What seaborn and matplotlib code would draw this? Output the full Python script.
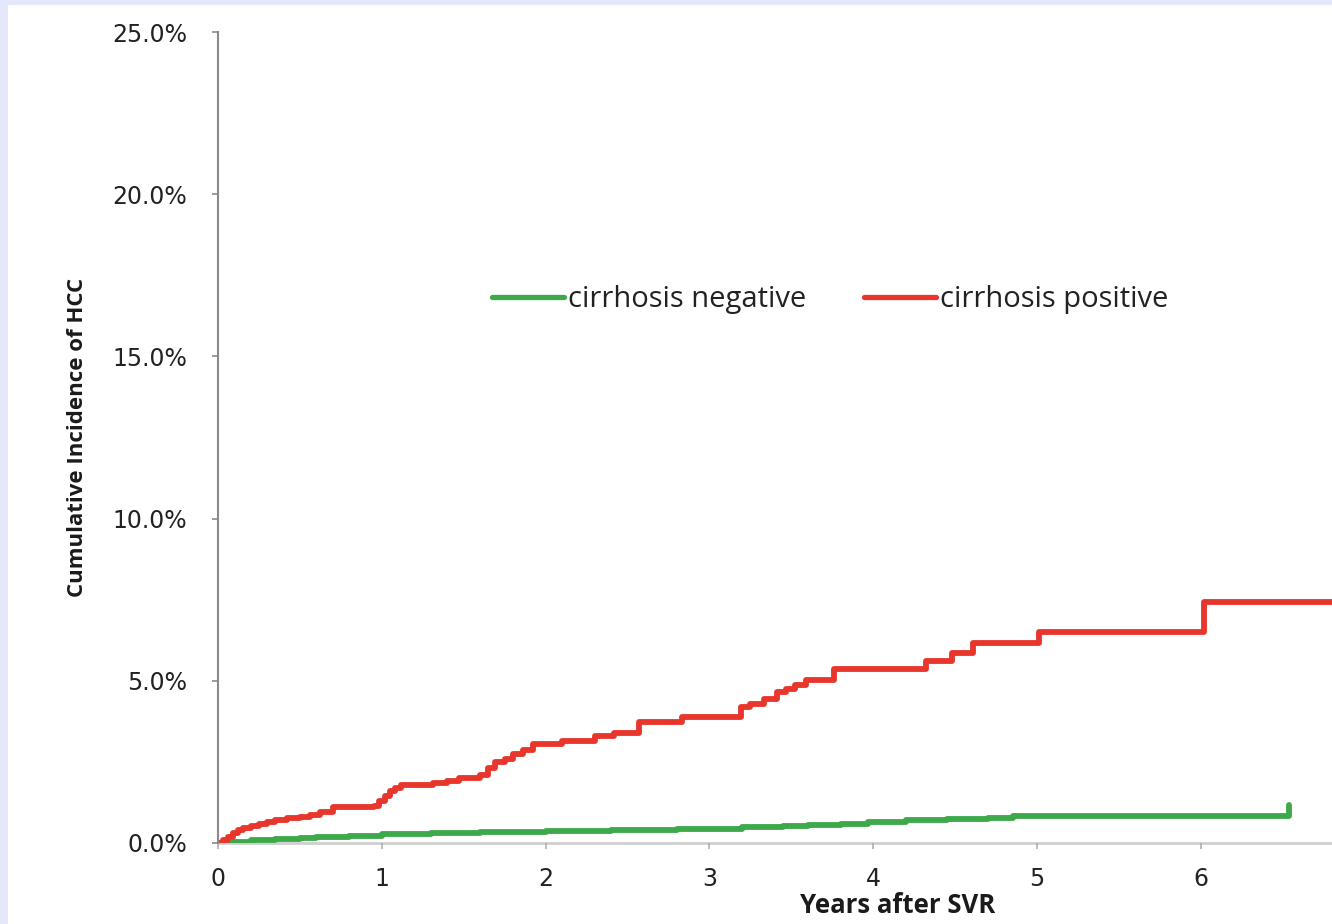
import matplotlib
matplotlib.use("Agg")
import matplotlib.pyplot as plt
from matplotlib.patches import Rectangle
from matplotlib.ticker import FuncFormatter
import seaborn as sns
import pandas as pd

# ---- data ----
neg_label = "cirrhosis negative"
pos_label = "cirrhosis positive"

neg_years = [0, 0.1, 0.2, 0.35, 0.5, 0.6, 0.8, 1.0, 1.3, 1.6, 2.0, 2.4, 2.8,
             3.2, 3.45, 3.6, 3.8, 3.97, 4.2, 4.45, 4.7, 4.85, 6.54]
neg_pct = [0, 0.04, 0.08, 0.12, 0.16, 0.2, 0.23, 0.27, 0.3, 0.33, 0.36, 0.4,
           0.44, 0.48, 0.51, 0.55, 0.6, 0.66, 0.7, 0.74, 0.78, 0.83, 1.18]

pos_years = [0, 0.03, 0.06, 0.09, 0.12, 0.15, 0.2, 0.25, 0.3, 0.35, 0.42, 0.5,
             0.56, 0.62, 0.7, 0.95, 0.98, 1.02, 1.05, 1.08, 1.12, 1.25, 1.31,
             1.4, 1.47, 1.6, 1.65, 1.69, 1.75, 1.8, 1.86, 1.92, 2.1, 2.3, 2.42,
             2.57, 2.83, 3.19, 3.25, 3.33, 3.41, 3.47, 3.52, 3.59, 3.76, 4.32,
             4.48, 4.61, 5.01, 6.02, 6.8]
pos_pct = [0, 0.1, 0.2, 0.3, 0.4, 0.46, 0.52, 0.6, 0.66, 0.72, 0.77, 0.8,
           0.87, 0.95, 1.1, 1.15, 1.3, 1.45, 1.6, 1.7, 1.78, 1.8, 1.85, 1.9,
           2.0, 2.1, 2.3, 2.5, 2.6, 2.75, 2.88, 3.05, 3.15, 3.3, 3.4, 3.72,
           3.88, 4.18, 4.3, 4.45, 4.65, 4.75, 4.87, 5.02, 5.35, 5.6, 5.85,
           6.15, 6.5, 7.43, 7.43]

x_ticks = [0, 1, 2, 3, 4, 5, 6]
y_ticks = [0, 5, 10, 15, 20, 25]

df = pd.concat([
    pd.DataFrame({"years": neg_years, "pct": neg_pct, "group": neg_label}),
    pd.DataFrame({"years": pos_years, "pct": pos_pct, "group": pos_label}),
], ignore_index=True)

# ---- figure ----
sns.set_style("white")
plt.rcParams["font.family"] = ["DejaVu Sans"]

fig = plt.figure(figsize=(13.32, 9.24), dpi=100, facecolor="#e4e8fa")
bg = Rectangle((8 / 1332, 0), 1 - 8 / 1332, 1 - 5 / 924,
               transform=fig.transFigure, facecolor="white",
               edgecolor="none", zorder=-10)
fig.patches.append(bg)
ax = fig.add_axes([218 / 1332, (924 - 843) / 924, 1 - 218 / 1332, (843 - 32) / 924])
ax.set_zorder(5)
ax.set_facecolor("none")
ax.patch.set_alpha(0)

sns.lineplot(data=df, x="years", y="pct", hue="group",
             palette={neg_label: "#3ea94a", pos_label: "#e8362c"},
             hue_order=[neg_label, pos_label],
             estimator=None, drawstyle="steps-post", linewidth=4.2,
             ax=ax, legend=True)

ax.set_xlim(0, 6.8)
ax.set_ylim(0, 25)
ax.set_xticks(x_ticks)
ax.set_yticks(y_ticks)
ax.yaxis.set_major_formatter(FuncFormatter(lambda v, p: f"{v:.1f}%"))

for s in ["top", "right"]:
    ax.spines[s].set_visible(False)
ax.spines["left"].set_color("#8a8a8a")
ax.spines["left"].set_linewidth(1.5)
ax.spines["bottom"].set_color("#cfcfcf")
ax.spines["bottom"].set_linewidth(2)
ax.spines["bottom"].set_zorder(0.5)

ax.tick_params(axis="y", direction="out", length=4.5, width=1.2, color="#8a8a8a",
               pad=17.5, labelsize=17, labelcolor="#222222", left=True)
ax.tick_params(axis="x", direction="out", length=4.5, width=1.2, color="#b0b0b0",
               pad=13, labelsize=17, labelcolor="#222222", bottom=True)

ax.set_xlabel("Years after SVR", fontsize=18.5, fontweight="bold",
              family=["Open Sans", "DejaVu Sans"], color="#1a1a1a")
ax.xaxis.set_label_coords(0.61, -0.061)
ax.set_ylabel("Cumulative Incidence of HCC", fontsize=16, fontweight="bold",
              family=["Liberation Sans Narrow", "Open Sans", "DejaVu Sans"],
              color="#1a1a1a")
ax.yaxis.set_label_coords(-0.117, 0.5)

leg = ax.legend(loc="center left", bbox_to_anchor=(0.246, 0.67), ncol=2,
                frameon=False, handlelength=2.45, handletextpad=0.15,
                columnspacing=2.0, borderaxespad=0, borderpad=0,
                prop={"family": ["Open Sans", "DejaVu Sans"], "size": 21})
for t in leg.get_texts():
    t.set_color("#222222")
for h in leg.legend_handles:
    h.set_linewidth(3.8)

fig.savefig("out.png", dpi=100, facecolor=fig.get_facecolor())
